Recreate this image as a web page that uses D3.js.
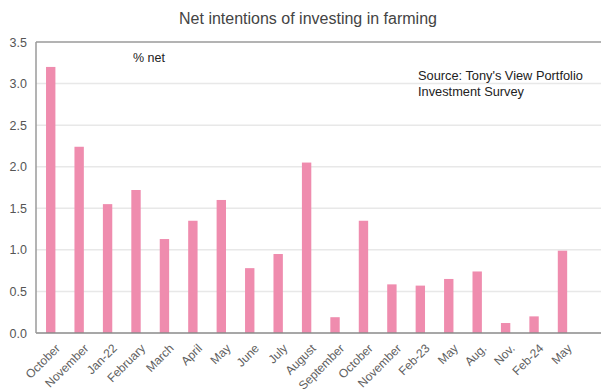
<!DOCTYPE html>
<html lang="en">
<head>
<meta charset="UTF-8">
<title>Net intentions of investing in farming</title>
<script src="https://d3js.org/d3.v7.min.js"></script>
<style>
  body { margin: 0; background: #fff; }
  text { font-family: "Liberation Sans", Arial, sans-serif; }
</style>
</head>
<body>
<div id="chart"></div>
<script>
// data
var categories = ["October", "November", "Jan-22", "February", "March", "April", "May", "June", "July",
  "August", "September", "October", "November", "Feb-23", "May", "Aug.", "Nov.", "Feb-24", "May"];
var values = [3.2, 2.24, 1.55, 1.72, 1.13, 1.35, 1.6, 0.78, 0.95,
  2.05, 0.19, 1.35, 0.585, 0.57, 0.65, 0.74, 0.12, 0.2, 0.99];
var yTicks = [0, 0.5, 1, 1.5, 2, 2.5, 3, 3.5];

var W = 601, H = 392;
var margin = {top: 42, right: 0, bottom: 59, left: 36};
var plotRight = 576.7; // bars stop before the frame edge

var svg = d3.select("#chart").append("svg")
  .attr("width", W).attr("height", H);

// x is an index band so repeated month names stay separate
var x = d3.scaleBand()
  .domain(d3.range(categories.length))
  .range([margin.left + 0.5, plotRight])
  .paddingInner(0.67).paddingOuter(0.335);

var y = d3.scaleLinear()
  .domain([0, 3.5])
  .range([H - margin.bottom, margin.top]);

// gridlines
svg.append("g")
  .selectAll("line")
  .data(yTicks.slice(1, -1))
  .join("line")
  .attr("x1", margin.left).attr("x2", W)
  .attr("y1", function(d) { return y(d); })
  .attr("y2", function(d) { return y(d); })
  .attr("stroke", "#e8e8e8").attr("stroke-width", 1.5);

// bars
svg.append("g")
  .selectAll("rect")
  .data(values)
  .join("rect")
  .attr("x", function(d, i) { return x(i); })
  .attr("width", x.bandwidth())
  .attr("y", function(d) { return y(d); })
  .attr("height", function(d) { return y(0) - y(d); })
  .attr("fill", "#ef8cae");

// frame: top, left, bottom
svg.append("line")
  .attr("x1", margin.left).attr("x2", W)
  .attr("y1", y(3.5)).attr("y2", y(3.5))
  .attr("stroke", "#9a9a9a").attr("stroke-width", 1.5);
svg.append("line")
  .attr("x1", margin.left).attr("x2", W)
  .attr("y1", y(0)).attr("y2", y(0))
  .attr("stroke", "#8a8a8a").attr("stroke-width", 1.5);
svg.append("line")
  .attr("x1", margin.left).attr("x2", margin.left)
  .attr("y1", y(3.5)).attr("y2", y(0))
  .attr("stroke", "#9a9a9a").attr("stroke-width", 1.5);

// y axis labels
var yAxis = d3.axisLeft(y).tickValues(yTicks).tickFormat(d3.format(".1f")).tickSize(0).tickPadding(9);
var gy = svg.append("g").attr("transform", "translate(" + margin.left + ",0)").call(yAxis);
gy.select(".domain").remove();
gy.selectAll("text").attr("fill", "#555").style("font-size", "12.5px")
  .style("font-family", "'Liberation Sans', Arial, sans-serif");

// x axis labels, rotated
var xAxis = d3.axisBottom(x).tickFormat(function(i) { return categories[i]; }).tickSize(0);
var gx = svg.append("g").attr("transform", "translate(0," + y(0) + ")").call(xAxis);
gx.select(".domain").remove();
gx.selectAll("text")
  .attr("fill", "#606060")
  .style("font-size", "12px")
  .style("font-family", "'Liberation Sans', Arial, sans-serif")
  .attr("text-anchor", "end")
  .attr("dy", "0.35em")
  .attr("transform", "translate(5,11) rotate(-45)");

// title
svg.append("text")
  .attr("x", 308).attr("y", 24)
  .attr("text-anchor", "middle")
  .attr("fill", "#444")
  .style("font-size", "16px")
  .text("Net intentions of investing in farming");

// annotations
svg.append("text")
  .attr("x", 133).attr("y", 62)
  .attr("fill", "#222")
  .style("font-size", "12.5px")
  .text("% net");
svg.append("text")
  .attr("x", 418).attr("y", 80)
  .attr("fill", "#222")
  .style("font-size", "12.8px")
  .text("Source: Tony's View Portfolio");
svg.append("text")
  .attr("x", 418).attr("y", 96)
  .attr("fill", "#222")
  .style("font-size", "12.8px")
  .text("Investment Survey");
</script>
</body>
</html>
